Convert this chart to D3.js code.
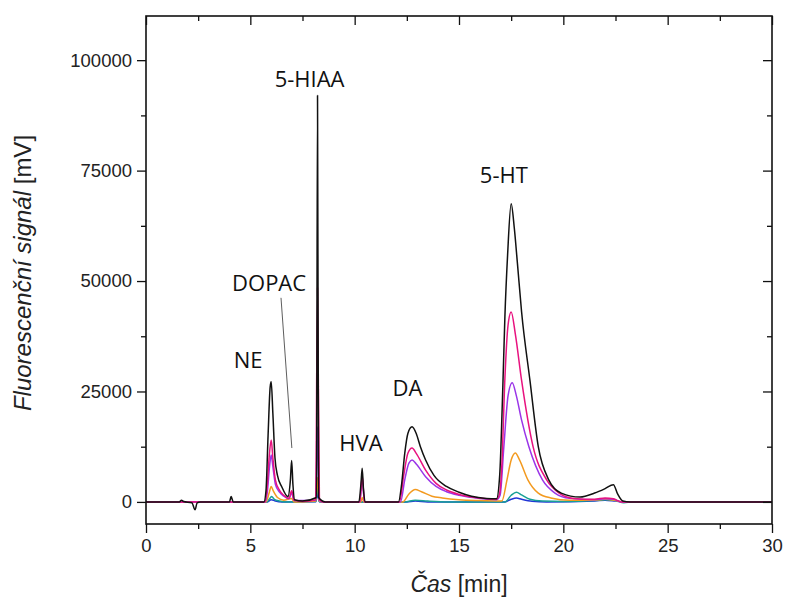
<!DOCTYPE html>
<html><head><meta charset="utf-8">
<script src="https://cdn.jsdelivr.net/npm/d3@7"></script>
<style>
html,body{margin:0;padding:0;background:#fff;}
svg{display:block;}
</style></head>
<body>
<svg id="chart" width="787" height="605"></svg>
<script>
// ---- data ----
const timeTicks = [0, 5, 10, 15, 20, 25, 30];
const timeMinorTicks = [2.5, 7.5, 12.5, 17.5, 22.5, 27.5];
const signalTicks = [0, 25000, 50000, 75000, 100000];
const signalMinorTicks = [12500, 37500, 62500, 87500];

const seriesNames = ["blue", "teal", "orange", "purple", "magenta", "black"];
const seriesColors = ["#2136d6", "#17a096", "#f39a1f", "#9a35e8", "#e8127f", "#111111"];

const blueTrace = [[0,0],[5.8,0],[6.0,500],[6.2,200],[6.5,0],[8.14,50],[8.22,2000],[8.30,50],[8.5,0],[12.5,0],[12.9,200],[13.5,0],[17.2,0],[17.5,600],[17.75,900],[18.0,600],[18.5,150],[19.2,0],[21.5,200],[22.0,400],[22.5,200],[23.0,0],[30,0]];
const tealTrace = [[0,0],[5.8,0],[5.95,900],[6.02,1200],[6.15,600],[6.4,200],[6.7,0],[8.14,100],[8.22,3500],[8.30,100],[8.5,0],[12.4,0],[12.9,400],[13.5,200],[14.5,0],[17.2,0],[17.5,1500],[17.75,2200],[18.0,1600],[18.4,600],[19.0,200],[20.0,100],[21.5,300],[22.0,500],[22.5,300],[22.9,-200],[23.3,0],[30,0]];
const orangeTrace = [[0,0],[5.75,0],[5.9,2000],[6.0,3500],[6.1,2500],[6.3,1000],[6.6,400],[6.98,800],[7.1,0],[8.14,200],[8.22,5500],[8.30,200],[8.5,0],[10.3,0],[10.36,1000],[10.44,0],[12.3,0],[12.6,1800],[12.9,2800],[13.2,2300],[13.7,1300],[14.2,900],[15.0,500],[16.0,300],[17.05,200],[17.3,5000],[17.5,9500],[17.7,11100],[17.9,9500],[18.3,5000],[18.8,2000],[19.4,900],[20.3,400],[21.5,400],[22.0,600],[22.5,300],[22.9,0],[30,0]];
const purpleTrace = [[0,0],[5.72,0],[5.82,2500],[5.92,8000],[6.0,10600],[6.08,8000],[6.2,4000],[6.4,2200],[6.6,1300],[6.85,700],[6.98,2000],[7.1,300],[8.14,400],[8.22,17000],[8.30,400],[8.5,0],[10.25,0],[10.36,5500],[10.47,0],[12.2,0],[12.4,5000],[12.6,8800],[12.75,9500],[12.95,8600],[13.4,5700],[13.9,3500],[14.4,2300],[15.0,1500],[15.8,900],[16.8,500],[16.97,1500],[17.15,12500],[17.35,24000],[17.55,27000],[17.75,24000],[18.0,18500],[18.35,12500],[19.0,5000],[19.6,2000],[20.3,800],[21.5,500],[22.0,700],[22.4,600],[22.8,0],[30,0]];
const magentaTrace = [[0,0],[5.7,0],[5.8,3000],[5.9,10000],[6.0,14000],[6.08,10000],[6.2,5000],[6.4,2600],[6.6,1500],[6.85,800],[6.98,2500],[7.1,400],[7.5,100],[8.13,500],[8.22,48500],[8.31,500],[8.5,0],[10.25,0],[10.36,6000],[10.47,0],[12.15,0],[12.35,6000],[12.55,11000],[12.75,12200],[12.95,11000],[13.4,7200],[13.9,4200],[14.4,2700],[15.0,1700],[15.8,1000],[16.8,600],[16.95,2000],[17.05,8000],[17.2,28000],[17.35,40000],[17.5,43000],[17.7,38000],[18.0,27500],[18.55,12500],[19.2,5000],[19.8,2000],[20.5,800],[21.5,600],[22.0,900],[22.4,700],[22.8,0],[30,0]];
const blackTrace = [[0,0],[1.6,0],[1.7,400],[1.8,100],[2.2,-200],[2.35,-1800],[2.45,-200],[2.6,0],[4.0,0],[4.08,1200],[4.18,0],[5.65,0],[5.75,2500],[5.85,15000],[5.95,26000],[6.0,27200],[6.08,20000],[6.18,10000],[6.3,6000],[6.5,3500],[6.8,1200],[6.92,5000],[6.98,9400],[7.04,4000],[7.12,500],[7.5,200],[8.17,1000],[8.22,92000],[8.27,1000],[8.6,0],[10.2,0],[10.3,4000],[10.36,7600],[10.42,3000],[10.5,0],[12.1,0],[12.25,4000],[12.4,11000],[12.55,15500],[12.75,17000],[12.95,15500],[13.15,12500],[13.4,9500],[13.8,6000],[14.4,3500],[15.0,2200],[15.6,1300],[16.3,800],[16.8,700],[16.95,6000],[17.1,26000],[17.2,42000],[17.33,56000],[17.5,67500],[17.65,62000],[17.8,54000],[18.0,43000],[18.4,27500],[18.8,12500],[19.3,5000],[19.9,2000],[20.8,1100],[21.5,2000],[22.0,3000],[22.4,3900],[22.6,1800],[22.85,200],[23.2,0],[30,0]];
const traces = [blueTrace, tealTrace, orangeTrace, purpleTrace, magentaTrace, blackTrace];

const peakLabels = ["NE", "DOPAC", "5-HIAA", "HVA", "DA", "5-HT"];
const peakLabelTimes = [4.89, 5.90, 7.84, 10.30, 12.53, 17.15];
const peakLabelValues = [30300, 47800, 94000, 11600, 24000, 72200];
const leaderFrom = [6.47, 46200];
const leaderTo = [6.99, 12200];

const xTitleItalic = "Čas", xTitleRest = " [min]";
const yTitleItalic = "Fluorescenční signál", yTitleRest = " [mV]";

// ---- layout ----
const L = 146, R = 772, T = 16, B = 524;
const svg = d3.select("#chart");
const x = d3.scaleLinear().domain([0, 30]).range([L, R]);
const y = d3.scaleLinear().domain([-5000, 110000]).range([B, T]);

const tickFont = "Liberation Sans, Arial, sans-serif";

// clip
svg.append("defs").append("clipPath").attr("id", "clip")
  .append("rect").attr("x", L).attr("y", T).attr("width", R - L).attr("height", B - T);

// traces
const line = d3.line().x(d => x(d[0])).y(d => y(d[1])).curve(d3.curveMonotoneX);
const g = svg.append("g").attr("clip-path", "url(#clip)");
traces.forEach((tr, i) => {
  g.append("path").datum(tr).attr("d", line)
    .attr("fill", "none").attr("stroke", seriesColors[i])
    .attr("stroke-width", 1.5).attr("stroke-linejoin", "round");
});

// axes
function styleAxis(sel) {
  sel.select(".domain").remove();
  sel.selectAll("line").attr("stroke", "#111").attr("stroke-width", 1.3);
  sel.selectAll("text").attr("font-family", tickFont).attr("font-size", 18.5).attr("fill", "#222");
}
const bottom = svg.append("g").attr("transform", `translate(0,${B})`)
  .call(d3.axisBottom(x).tickValues(timeTicks).tickSize(9).tickPadding(6).tickFormat(d3.format("d")));
styleAxis(bottom);
svg.append("g").attr("transform", `translate(0,${B})`)
  .call(d3.axisBottom(x).tickValues(timeMinorTicks).tickSize(5).tickFormat("")).call(styleAxis);
svg.append("g").attr("transform", `translate(0,${T})`)
  .call(d3.axisBottom(x).tickValues(timeTicks).tickSize(9).tickFormat("")).call(styleAxis);
svg.append("g").attr("transform", `translate(0,${T})`)
  .call(d3.axisBottom(x).tickValues(timeMinorTicks).tickSize(5).tickFormat("")).call(styleAxis);

const left = svg.append("g").attr("transform", `translate(${L},0)`)
  .call(d3.axisLeft(y).tickValues(signalTicks).tickSize(9).tickPadding(5).tickFormat(d3.format("d")));
styleAxis(left);
svg.append("g").attr("transform", `translate(${L},0)`)
  .call(d3.axisLeft(y).tickValues(signalMinorTicks).tickSize(5).tickFormat("")).call(styleAxis);
svg.append("g").attr("transform", `translate(${R},0)`)
  .call(d3.axisLeft(y).tickValues(signalTicks).tickSize(9).tickFormat("")).call(styleAxis);
svg.append("g").attr("transform", `translate(${R},0)`)
  .call(d3.axisLeft(y).tickValues(signalMinorTicks).tickSize(5).tickFormat("")).call(styleAxis);

// frame
svg.append("rect").attr("x", L).attr("y", T).attr("width", R - L).attr("height", B - T)
  .attr("fill", "none").attr("stroke", "#111").attr("stroke-width", 1.6);

// titles
const xt = svg.append("text").attr("x", (L + R) / 2).attr("y", 592)
  .attr("text-anchor", "middle").attr("font-family", tickFont).attr("font-size", 23).attr("fill", "#222");
xt.append("tspan").attr("font-style", "italic").text(xTitleItalic);
xt.append("tspan").text(xTitleRest);

const yt = svg.append("text").attr("transform", "translate(31,273) rotate(-90)")
  .attr("text-anchor", "middle").attr("font-family", tickFont).attr("font-size", 24).attr("fill", "#222");
yt.append("tspan").attr("font-style", "italic").text(yTitleItalic);
yt.append("tspan").text(yTitleRest);

// peak labels
svg.append("g").selectAll("text").data(peakLabels).join("text")
  .attr("x", (d, i) => x(peakLabelTimes[i]))
  .attr("y", (d, i) => y(peakLabelValues[i]))
  .attr("text-anchor", "middle")
  .attr("font-family", "Open Sans, sans-serif").attr("font-size", 22).attr("fill", "#111")
  .text(d => d);

svg.append("line")
  .attr("x1", x(leaderFrom[0])).attr("y1", y(leaderFrom[1]))
  .attr("x2", x(leaderTo[0])).attr("y2", y(leaderTo[1]))
  .attr("stroke", "#333").attr("stroke-width", 0.8);
</script>
</body></html>
